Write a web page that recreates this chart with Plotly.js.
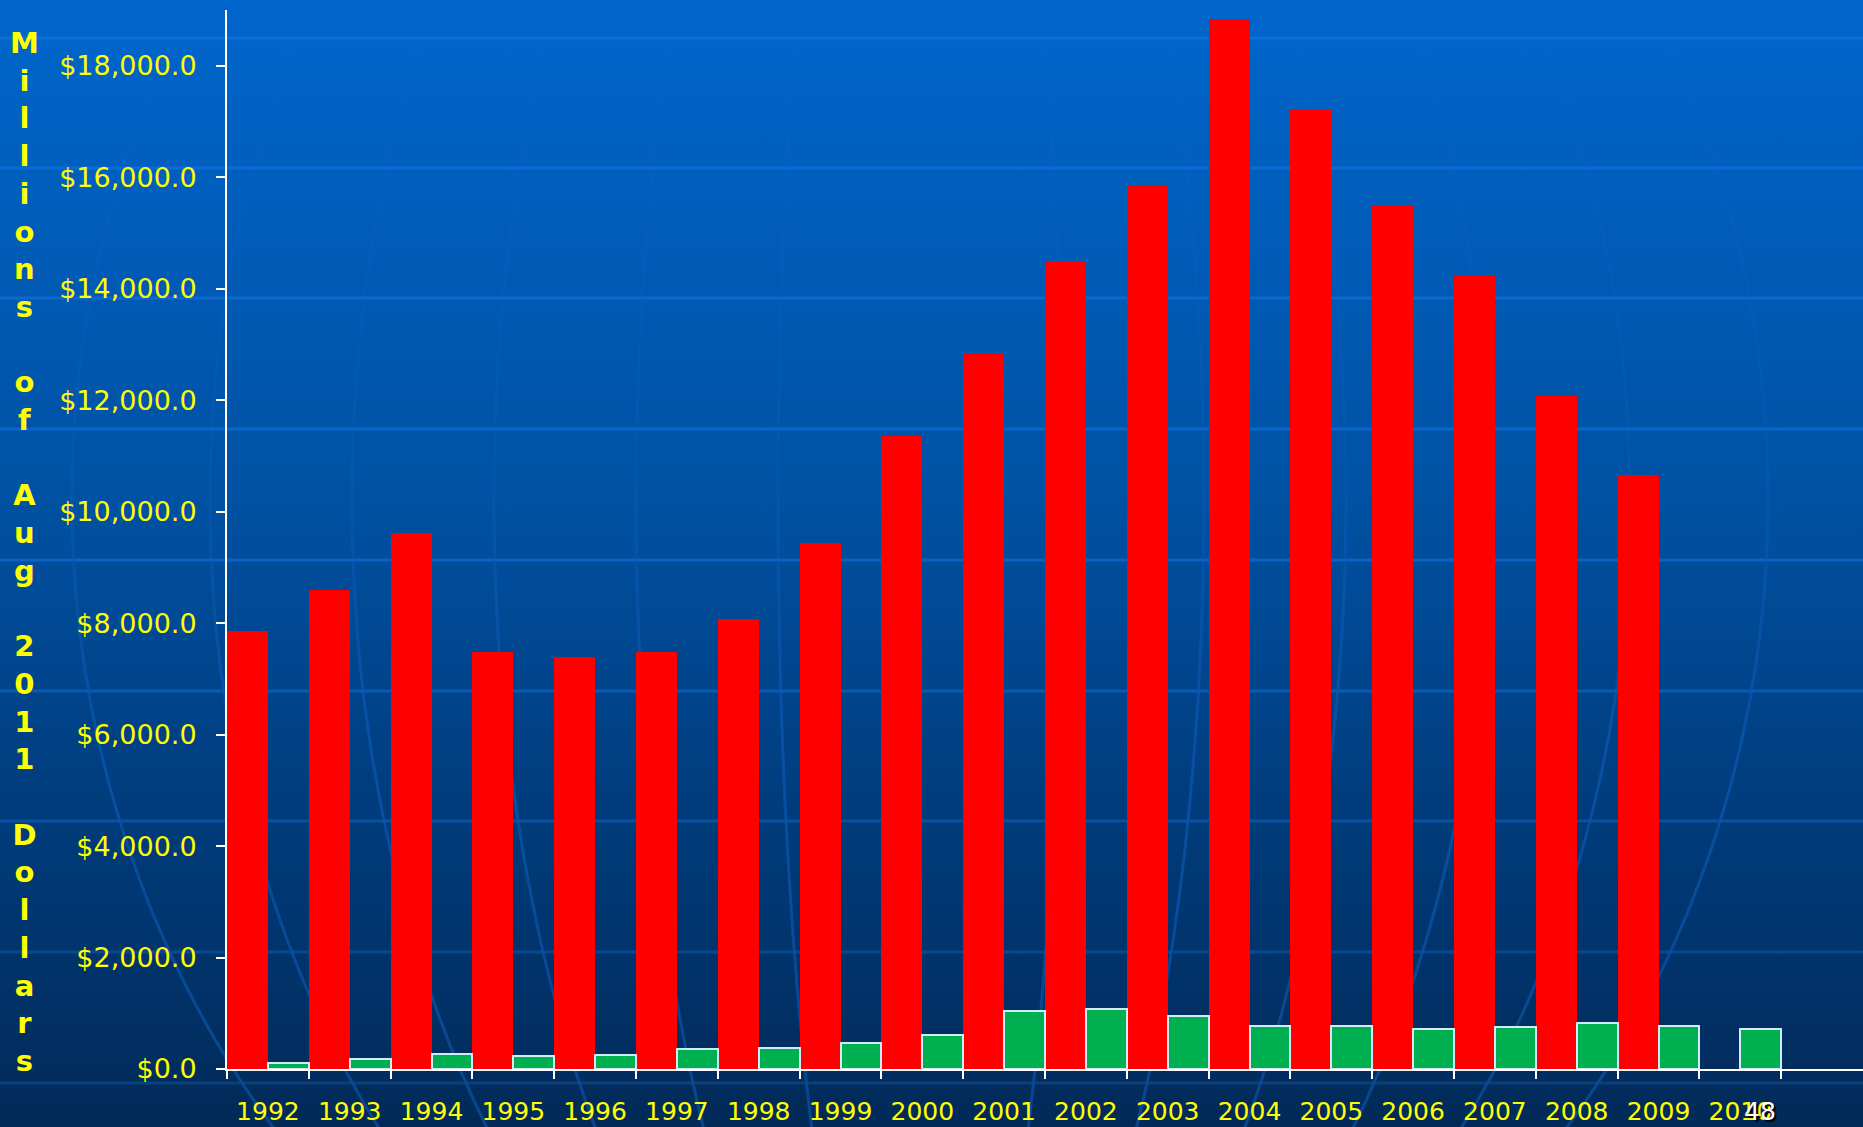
<!DOCTYPE html>
<html>
<head>
<meta charset="utf-8">
<script src="https://cdn.plot.ly/plotly-3.0.1.min.js"></script>
<style>
  html, body { margin: 0; padding: 0; overflow: hidden; }
  #wrap { position: relative; width: 1863px; height: 1127px; }
  #bg { position: absolute; left: 0; top: 0; }
  #chart { position: absolute; left: 0; top: 0; width: 1863px; height: 1127px; }
</style>
</head>
<body>
<div id="wrap">
  <svg id="bg" width="1863" height="1127" xmlns="http://www.w3.org/2000/svg"></svg>
  <div id="chart"></div>
</div>
<script>
// values (millions of Aug 2011 dollars)
const years = ['1992', '1993', '1994', '1995', '1996', '1997', '1998', '1999', '2000', '2001',
  '2002', '2003', '2004', '2005', '2006', '2007', '2008', '2009', '2010'];
const redValues = [7860, 8590, 9610, 7480, 7400, 7480, 8080, 9440, 11350, 12840,
  14500, 15860, 18840, 17220, 15500, 14230, 12070, 10650, null];
const greenValues = [115, 172, 269, 233, 245, 353, 377, 472, 604, 1035,
  1082, 951, 771, 765, 712, 753, 819, 777, 717];
const yTitle = 'Millions of Aug 2011 Dollars';
const slideNumber = '48';

// slide background: gradient, faint horizontal rules and globe meridians
const bg = document.getElementById('bg');
const NS = 'http://www.w3.org/2000/svg';
bg.innerHTML =
  '<defs>' +
  '<linearGradient id="g" x1="0" y1="0" x2="0" y2="1">' +
  '<stop offset="0" stop-color="#0066cc"/><stop offset="0.45" stop-color="#0051a2"/>' +
  '<stop offset="0.72" stop-color="#003c7c"/><stop offset="1" stop-color="#022a58"/>' +
  '</linearGradient>' +
  '<linearGradient id="lg" gradientUnits="userSpaceOnUse" x1="0" y1="0" x2="0" y2="1127">' +
  '<stop offset="0" stop-color="#0a70dc"/><stop offset="0.5" stop-color="#0a62c6"/>' +
  '<stop offset="1" stop-color="#083e76"/>' +
  '</linearGradient>' +
  '<linearGradient id="mg" gradientUnits="userSpaceOnUse" x1="0" y1="0" x2="0" y2="1127">' +
  '<stop offset="0" stop-color="#0a66d0" stop-opacity="0.15"/>' +
  '<stop offset="0.4" stop-color="#0a5cbc" stop-opacity="0.35"/>' +
  '<stop offset="0.65" stop-color="#0a56b0" stop-opacity="0.75"/>' +
  '<stop offset="1" stop-color="#0a4a98" stop-opacity="0.85"/>' +
  '</linearGradient>' +
  '</defs>' +
  '<rect x="0" y="0" width="1863" height="1127" fill="url(#g)"/>';
[38, 168, 298, 429, 560, 691, 821, 952, 1083].forEach(y => {
  const l = document.createElementNS(NS, 'line');
  l.setAttribute('x1', 0); l.setAttribute('x2', 1863);
  l.setAttribute('y1', y); l.setAttribute('y2', y);
  l.setAttribute('stroke', 'url(#lg)'); l.setAttribute('stroke-width', 3);
  bg.appendChild(l);
});
[142, 284, 426, 568, 710, 848].forEach(rx => {
  const e = document.createElementNS(NS, 'ellipse');
  e.setAttribute('cx', 920); e.setAttribute('cy', 500);
  e.setAttribute('rx', rx); e.setAttribute('ry', 970);
  e.setAttribute('fill', 'none'); e.setAttribute('stroke', 'url(#mg)');
  e.setAttribute('stroke-width', 3);
  bg.appendChild(e);
});

const tickFont = { family: 'DejaVu Sans, Verdana, sans-serif', size: 27, color: '#ffff00' };

const traces = [
  {
    type: 'bar',
    x: years,
    y: redValues,
    name: 'red',
    marker: { color: '#ff0000', line: { width: 0 } },
    hoverinfo: 'x+y'
  },
  {
    type: 'bar',
    x: years,
    y: greenValues,
    name: 'green',
    marker: { color: '#00b050', line: { color: '#d2ecf6', width: 2 } },
    hoverinfo: 'x+y'
  }
];

const layout = {
  width: 1863,
  height: 1127,
  margin: { l: 227, r: 0, t: 10, b: 58 },
  paper_bgcolor: 'rgba(0,0,0,0)',
  plot_bgcolor: 'rgba(0,0,0,0)',
  showlegend: false,
  barmode: 'group',
  bargap: 0,
  bargroupgap: 0,
  xaxis: {
    type: 'category',
    range: [-0.5, 19.5],
    tickson: 'boundaries',
    ticks: 'outside',
    ticklen: 8,
    tickwidth: 2,
    tickcolor: '#ffffff',
    showline: true,
    linecolor: '#ffffff',
    linewidth: 2,
    showgrid: false,
    zeroline: false,
    tickfont: { ...tickFont, size: 25 },
    ticklabelstandoff: 19
  },
  yaxis: {
    range: [0, 19000],
    tick0: 0,
    dtick: 2000,
    tickformat: '$,.1f',
    ticks: 'outside',
    ticklen: 9,
    tickwidth: 2,
    tickcolor: '#ffffff',
    showline: true,
    linecolor: '#ffffff',
    linewidth: 2,
    showgrid: false,
    zeroline: false,
    tickfont: tickFont,
    ticklabelstandoff: 14
  },
  annotations: [
    {
      // vertical stacked-letter axis title
      text: yTitle.split('').map(c => c === ' ' ? '&nbsp;' : c).join('<br>'),
      xref: 'paper', yref: 'paper',
      x: -0.1235, y: 0.488,
      xanchor: 'center', yanchor: 'middle',
      showarrow: false,
      font: { family: 'DejaVu Sans, Verdana, sans-serif', size: 29, color: '#ffff00', weight: 'bold' }
    },
    {
      text: slideNumber,
      xref: 'paper', yref: 'paper',
      x: 0.937, y: -0.0406,
      xanchor: 'center', yanchor: 'middle',
      showarrow: false,
      font: { family: 'DejaVu Sans, Verdana, sans-serif', size: 25, color: '#ffffff', shadow: '2px 2px 1px #000000' }
    }
  ]
};

Plotly.newPlot('chart', traces, layout, { displayModeBar: false, responsive: false });
</script>
</body>
</html>
